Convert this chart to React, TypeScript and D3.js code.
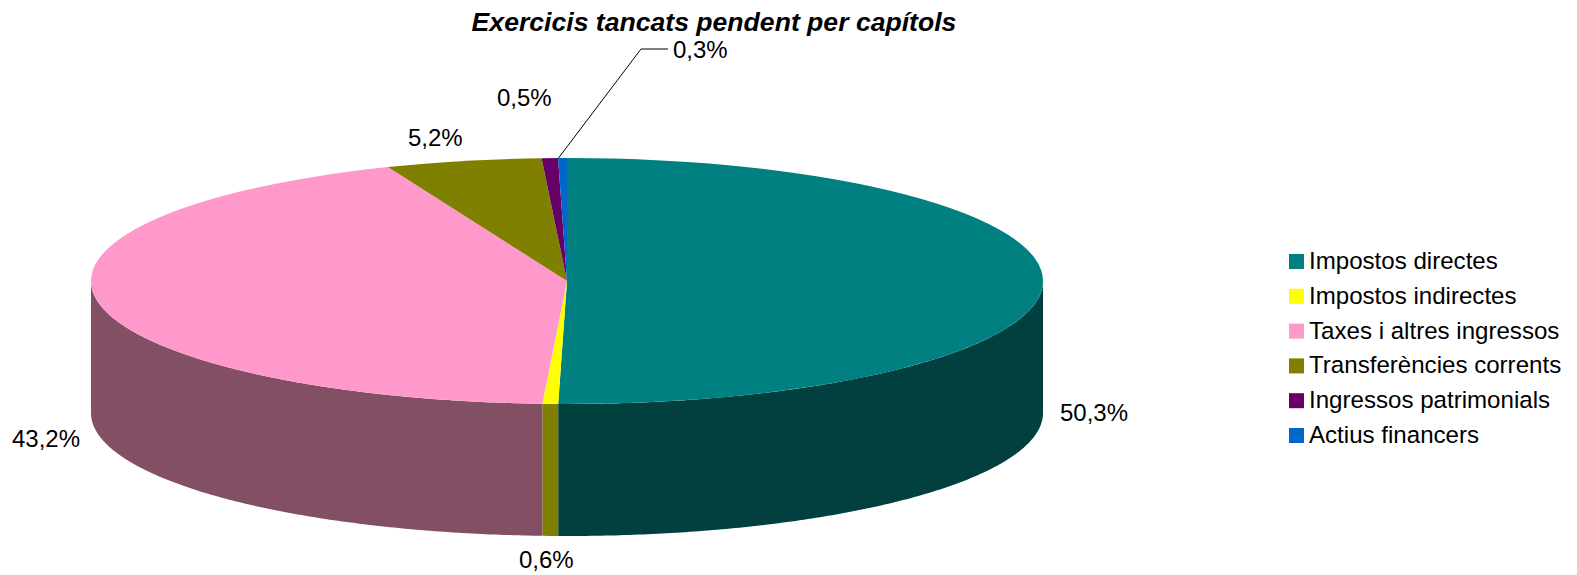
import React from "react";
import * as d3 from "d3";

const titleText = "Exercicis tancats pendent per capítols";
const categories = ["Impostos directes", "Impostos indirectes", "Taxes i altres ingressos", "Transferències corrents", "Ingressos patrimonials", "Actius financers"];
const values = [50.37, 0.53, 43.1, 5.3, 0.55, 0.3];
const labels = ["50,3%", "0,6%", "43,2%", "5,2%", "0,5%", "0,3%"];
const topColors = ["#008080", "#FFFF00", "#FF99CC", "#808000", "#660066", "#0066CC"];
const sideColors = ["#024040", "#808000", "#834F64", "#404000", "#330033", "#003366"];
const labelPos: [number, number][] = [[1060, 421], [519, 568], [12, 447], [408, 146], [497, 106], [673, 58]];

const W = 1577, H = 575;
const cx = 567, cy = 281, rx = 476, ry = 123, depth = 132;
const FONT = "'Liberation Sans', Arial, sans-serif";

export default function App() {
  const arcsData = d3.pie<number>().sort(null).value((d) => d)(values);
  const topArc = d3.arc<any>().innerRadius(0).outerRadius(rx);
  const px = (a: number) => cx + rx * Math.sin(a);
  const py = (a: number) => cy - ry * Math.cos(a);
  const line = d3.line<[number, number]>();

  const sidePath = (a0: number, a1: number) => {
    const s = Math.max(a0, Math.PI / 2), e = Math.min(a1, (3 * Math.PI) / 2);
    if (e <= s) return null;
    const ang = [...d3.range(s, e, 0.01), e];
    const up = ang.map((a): [number, number] => [px(a), py(a)]);
    const down = ang.slice().reverse().map((a): [number, number] => [px(a), py(a) + depth]);
    return line([...up, ...down]) + "Z";
  };

  const legendY = d3.scalePoint<string>().domain(categories).range([261.5, 435.5]);
  const leaderStart = arcsData[5];
  const la = (leaderStart.startAngle + leaderStart.endAngle) / 2;

  return (
    <svg width={W} height={H} viewBox={`0 0 ${W} ${H}`} style={{ position: "absolute", left: 0, top: 0, display: "block" }} fontFamily={FONT}>
      <rect width={W} height={H} fill="#fff" />
      <text x={714} y={31} textAnchor="middle" fontSize={26.6} fontWeight="bold" fontStyle="italic" fill="#000">{titleText}</text>
      {arcsData.map((d, i) => {
        const p = sidePath(d.startAngle, d.endAngle);
        return p ? <path key={i} d={p} fill={sideColors[i]} /> : null;
      })}
      <g transform={`translate(${cx},${cy}) scale(1,${ry / rx})`}>
        {arcsData.map((d, i) => (
          <path key={i} d={topArc(d) as string} fill={topColors[i]} />
        ))}
      </g>
      <path d={line([[px(la) - 4, py(la)], [641, 49], [668, 49]]) as string} fill="none" stroke="#000" strokeWidth={1} />
      {labels.map((t, i) => (
        <text key={i} x={labelPos[i][0]} y={labelPos[i][1]} fontSize={24} fill="#000">{t}</text>
      ))}
      {categories.map((c, i) => (
        <g key={c}>
          <rect x={1289} y={(legendY(c) as number) - 7.5} width={15} height={15} fill={topColors[i]} />
          <text x={1309} y={(legendY(c) as number) + 7.5} fontSize={24.1} fill="#000">{c}</text>
        </g>
      ))}
    </svg>
  );
}
